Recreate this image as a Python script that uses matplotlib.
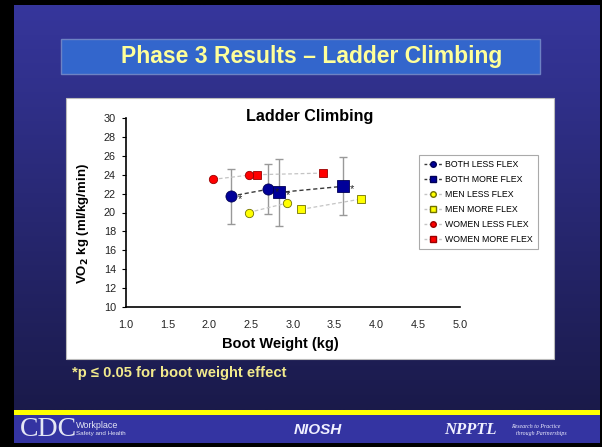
import numpy as np
import matplotlib
matplotlib.use('Agg')
import matplotlib.pyplot as plt
from matplotlib.patches import Rectangle
from matplotlib.lines import Line2D

plt.rcParams['font.family'] = ['Liberation Sans', 'DejaVu Sans']

# data
labels = ['BOTH LESS FLEX', 'BOTH MORE FLEX', 'MEN LESS FLEX',
          'MEN MORE FLEX', 'WOMEN LESS FLEX', 'WOMEN MORE FLEX']
both_less_x = [2.26, 2.70]
both_less_y = [21.73, 22.45]
both_less_err = [2.91, 2.65]
both_more_x = [2.83, 3.60]
both_more_y = [22.12, 22.77]
both_more_err = [3.5, 3.07]
men_less_x = [2.47, 2.93]
men_less_y = [20.0, 21.0]
men_more_x = [3.10, 3.82]
men_more_y = [20.33, 21.43]
women_less_x = [2.04, 2.47]
women_less_y = [23.5, 23.95]
women_more_x = [2.57, 3.36]
women_more_y = [24.0, 24.17]
xticks = [1.0, 1.5, 2.0, 2.5, 3.0, 3.5, 4.0, 4.5, 5.0]
yticks = list(range(10, 31, 2))

W, H = 602, 447
fig = plt.figure(figsize=(W / 100, H / 100), dpi=100)
fig.patch.set_facecolor('black')

# slide background in pixel coordinates
bg = fig.add_axes([0, 0, 1, 1])
bg.set_xlim(0, W)
bg.set_ylim(H, 0)
bg.axis('off')
top_c = np.array([0x36, 0x36, 0x9c]) / 255
bot_c = np.array([0x1a, 0x1a, 0x4a]) / 255
t = np.linspace(0, 1, 256)[:, None, None]
grad = top_c * (1 - t) + bot_c * t
bg.imshow(grad, extent=[14, 600, 410, 5], aspect='auto', zorder=0)
bg.add_patch(Rectangle((14, 410), 586, 5, facecolor='#ffff00', edgecolor='none', zorder=1))
bg.add_patch(Rectangle((14, 415), 586, 28, facecolor='#3434a2', edgecolor='none', zorder=1))
bg.add_patch(Rectangle((61, 39), 479, 35, facecolor='#3366cc', edgecolor='#6d82c4', lw=1, zorder=1))
bg.text(312, 57, 'Phase 3 Results \u2013 Ladder Climbing', color='#ffff99',
        fontsize=16.5, fontweight='bold', ha='center', va='center', zorder=2)
bg.add_patch(Rectangle((66, 98), 488, 261, facecolor='white', edgecolor='#bbbbbb', lw=0.8, zorder=1))
bg.text(310, 116, 'Ladder Climbing', fontsize=11.6, fontweight='bold',
        ha='center', va='center', zorder=2)
bg.text(72, 373, '*p \u2264 0.05 for boot weight effect', color='#f2ea8c',
        fontsize=10.6, fontweight='bold', ha='left', va='center', zorder=2)

# footer logos
bg.text(20, 430, 'CDC', family='Liberation Serif', fontsize=20, color='#e4e6f4',
        ha='left', va='center', zorder=2)
bg.text(76, 425, 'Workplace', fontsize=6.5, color='#e4e6f4', ha='left', va='center', zorder=2)
bg.text(76, 434, 'Safety and Health', fontsize=4.5, color='#e4e6f4', ha='left', va='center', zorder=2)
bg.text(318, 430, 'NIOSH', fontsize=11, fontweight='bold', style='italic',
        color='#f0f0ff', ha='center', va='center', zorder=2)
bg.text(444, 430, 'NPPTL', family='Liberation Serif', fontsize=12, fontweight='bold',
        style='italic', color='#f0f0ff', ha='left', va='center', zorder=2)
bg.text(511, 426, 'Research to Practice', family='Liberation Serif', fontsize=4.2,
        style='italic', color='#f0f0ff', ha='left', va='center', zorder=2)
bg.text(516, 433, 'through Partnerships', family='Liberation Serif', fontsize=4.2,
        style='italic', color='#f0f0ff', ha='left', va='center', zorder=2)

# chart axes
ax = fig.add_axes([125.7 / W, 1 - 307 / H, (460 - 125.7) / W, (307 - 118) / H])
ax.set_facecolor('none')
ax.set_xlim(1.0, 5.0)
ax.set_ylim(10, 30)
ax.set_xticks(xticks)
ax.set_xticklabels([f'{v:.1f}' for v in xticks])
ax.set_yticks(yticks)
for s in ['top', 'right']:
    ax.spines[s].set_visible(False)
for s in ['left', 'bottom']:
    ax.spines[s].set_linewidth(1.2)
ax.tick_params(axis='x', length=0, pad=9, labelsize=7.8, labelcolor='#222222')
ax.tick_params(axis='y', length=3, width=0.8, pad=4, labelsize=7.8, labelcolor='#222222')

ax.errorbar(both_less_x, both_less_y, yerr=both_less_err, fmt='none',
            ecolor='#999999', elinewidth=1, capsize=3, zorder=2)
ax.errorbar(both_more_x, both_more_y, yerr=both_more_err, fmt='none',
            ecolor='#999999', elinewidth=1, capsize=3, zorder=2)

dash = (0, (3, 2))
light = '#c4c4c4'
dark = '#3a3a3a'
ax.plot(men_less_x, men_less_y, ls=dash, color=light, lw=0.9, marker='o', ms=6,
        mfc='#ffff00', mec='#707000', mew=0.6, zorder=3)
ax.plot(men_more_x, men_more_y, ls=dash, color=light, lw=0.9, marker='s', ms=6.2,
        mfc='#ffff00', mec='#707000', mew=0.6, zorder=3)
ax.plot(women_less_x, women_less_y, ls=dash, color=light, lw=0.9, marker='o', ms=6,
        mfc='#ff0000', mec='#990000', mew=0.6, zorder=3)
ax.plot(women_more_x, women_more_y, ls=dash, color=light, lw=0.9, marker='s', ms=6.2,
        mfc='#ff0000', mec='#990000', mew=0.6, zorder=3)
ax.plot(both_less_x, both_less_y, ls=dash, color=dark, lw=1, marker='o', ms=8,
        mfc='#000099', mec='#000055', mew=0.6, zorder=4)
ax.plot(both_more_x, both_more_y, ls=dash, color=dark, lw=1, marker='s', ms=8.5,
        mfc='#000099', mec='#000055', mew=0.6, zorder=4)

for xs, ys in [(both_less_x, both_less_y), (both_more_x, both_more_y)]:
    for xv, yv in zip(xs, ys):
        ax.annotate('*', (xv, yv), xytext=(5, -2), textcoords='offset points',
                    fontsize=8, ha='left', va='center', color='#222222', zorder=5)

ax.set_xlabel('Boot Weight (kg)', fontsize=10.5, fontweight='bold')
ax.xaxis.set_label_coords(0.4616, -0.159)
ax.set_ylabel(r'VO$_\mathbf{2}$ kg (ml/kg/min)', fontsize=9.5, fontweight='bold')
ax.yaxis.set_label_coords(-0.105, 0.444)

ldash = (0, (2, 1.5))
handles = [
    Line2D([], [], ls=ldash, color=dark, lw=1, marker='o', ms=4, mfc='#000099', mec='#000055'),
    Line2D([], [], ls=ldash, color=dark, lw=1, marker='s', ms=4, mfc='#000099', mec='#000055'),
    Line2D([], [], ls=ldash, color=light, lw=1, marker='o', ms=4, mfc='#ffff00', mec='#707000'),
    Line2D([], [], ls=ldash, color=light, lw=1, marker='s', ms=4, mfc='#ffff00', mec='#707000'),
    Line2D([], [], ls=ldash, color=light, lw=1, marker='o', ms=4, mfc='#ff0000', mec='#990000'),
    Line2D([], [], ls=ldash, color=light, lw=1, marker='s', ms=4, mfc='#ff0000', mec='#990000'),
]
leg = ax.legend(handles, labels, loc='upper left', bbox_to_anchor=(419 / W, 1 - 155 / H),
                bbox_transform=fig.transFigure, borderaxespad=0, fontsize=6.3,
                frameon=True, fancybox=False, edgecolor='#aaaaaa', framealpha=1,
                labelspacing=0.68, handlelength=2.0, handletextpad=0.4,
                borderpad=0.6)
leg.get_frame().set_linewidth(0.8)

fig.savefig('out.png', dpi=100, facecolor=fig.get_facecolor())
